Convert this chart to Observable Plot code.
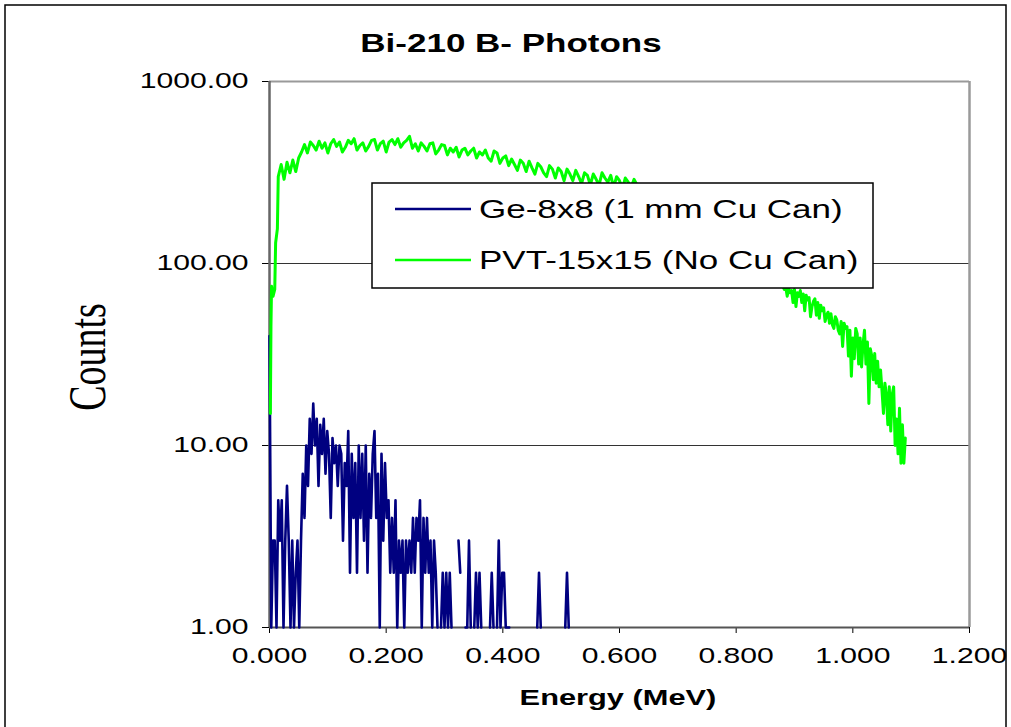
<!DOCTYPE html>
<html><head><meta charset="utf-8">
<script src="https://cdn.jsdelivr.net/npm/d3@7"></script>
<script src="https://cdn.jsdelivr.net/npm/@observablehq/plot@0.6"></script>
<style>body{margin:0;background:#fff;} svg{display:block}</style>
</head><body><div id="chart"></div>
<script>
const chartTitle = "Bi-210 B- Photons";
const xLabel = "Energy (MeV)";
const yLabel = "Counts";
const seriesNames = ["Ge-8x8 (1 mm Cu Can)", "PVT-15x15 (No Cu Can)"];
const seriesColors = ["#000080", "#00ff00"];
const xTicks = [0, 0.2, 0.4, 0.6, 0.8, 1.0, 1.2];
const yTicks = [1, 10, 100, 1000];
const yGrid = [10, 100];

// Ge-8x8 spectrum: channel energies start 0, width 0.003 MeV; null = empty channel
const geStart = 0, geStep = 0.003;
const geCounts = [
  40,1,3,3,1,5,3,5,1,3,
  6,3,1,3,1,2,3,1,3,7,
  4,10,6,14,9,17,10,14,6,13,
  9,14,7,12,9,4,11,8,10,6,
  10,9,3,8,6,12,2,9,4,8,
  2,10,4,9,3,10,2,7,4,9,
  12,4,7,1,9,3,8,4,5,2,
  4,2,5,1,3,2,3,1,3,2,
  3,2,4,2,4,3,5,1,4,2,
  4,2,3,1,3,2,1,null,1,2,
  1,2,1,2,1,null,null,null,3,2,
  null,null,1,1,3,1,null,1,2,1,
  2,1,null,null,null,null,1,2,1,null,
  1,3,1,2,2,1,1,1,null,null,
  null,null,null,null,null,null,null,null,null,null,
  null,null,null,1,2,1,null,null,null,null,
  null,null,null,null,null,null,null,null,null,1,
  2,1
];

// PVT-15x15 spectrum
const pvtHeadE = [0.0015, 0.0025, 0.0035, 0.006, 0.009, 0.0105, 0.0135];
const pvtHeadC = [15, 45, 75, 66, 72, 130, 155];
const pvtMainStart = 0.015, pvtMainStep = 0.005;
const pvtMainCounts = [
  300,350,290,360,315,370,320,380,410,450,
  405,465,445,420,470,430,460,405,455,480,
  440,465,410,435,475,455,485,420,445,460,
  415,440,475,480,420,455,470,410,465,480,
  450,485,435,460,475,500,430,455,415,460,
  440,415,455,460,400,420,450,445,395,430,
  410,435,385,420,430,395,415,430,380,410,
  395,420,380,365,415,405,355,380,390,345,
  375,350,325,370,355,320,365,335,310,355,
  340,315,300,345,330,295,335,320,285,330,
  310,285,325,300,275,315,305,270,310,290,
  270,315,295,280,305,262,300,285,258,295,
  280,262,290,270,250,260,250,255,245,250,
  235,240,230,232,220,222,210,212,200,200,
  190,188,178,176,166,165,155,152,145,140,
  134,130,124,120,115,110,106,102,98,95,
  92,90,88,86,84,84,82,82,80,80,
  78,78,76,75
];
const pvtTailStart = 0.8825, pvtTailStep = 0.0025;
const pvtTailCounts = [
  72,74,66,73,69,71,61,72,
  58,69,66,71,61,68,55,67,
  63,65,51,58,62,64,52,61,
  50,59,55,57,48,52,54,47,
  53,46,44,51,49,43,41,48,
  35,47,44,45,31,43,24,39,
  30,44,41,28,39,27,36,43,
  28,37,17,34,31,23,32,22,
  29,21,26,20,15,22,19,13,
  21,12,19,21,10,14,9,16,
  8,13,8,11
];

const ge = geCounts.map((c, i) => ({e: geStart + i * geStep, c}));
const pvt = [
  ...pvtHeadE.map((e, i) => ({e, c: pvtHeadC[i]})),
  ...pvtMainCounts.map((c, i) => ({e: pvtMainStart + i * pvtMainStep, c})),
  ...pvtTailCounts.map((c, i) => ({e: pvtTailStart + i * pvtTailStep, c}))
];

const FONT = "'Liberation Sans', Arial, sans-serif";
const SX = 1.4; // horizontal stretch of the original rendering

const chart = Plot.plot({
  width: 1011, height: 727,
  marginLeft: 269, marginRight: 42, marginTop: 81, marginBottom: 100,
  style: {fontFamily: FONT, fontSize: "21.5px", color: "#000", background: "#fff", overflow: "visible"},
  x: {domain: [0, 1.2], ticks: xTicks, tickFormat: d => d.toFixed(3), tickSize: 6, tickPadding: 14, label: null},
  y: {type: "log", domain: [1, 1000], ticks: yTicks, tickFormat: d => d.toFixed(2), tickSize: 7, tickPadding: 14, label: null},
  marks: [
    Plot.ruleY(yGrid, {stroke: "#333", strokeWidth: 1}),
    Plot.ruleY([1000], {stroke: "#9a9a9a", strokeWidth: 2}),
    Plot.ruleX([1.2], {stroke: "#9a9a9a", strokeWidth: 2.5}),
    Plot.ruleX([0], {stroke: "#666", strokeWidth: 2.5}),
    Plot.ruleY([1], {stroke: "#555", strokeWidth: 2}),
    Plot.line(ge, {x: "e", y: "c", stroke: seriesColors[0], strokeWidth: 2.6}),
    Plot.line(pvt, {x: "e", y: "c", stroke: seriesColors[1], strokeWidth: 3})
  ]
});
document.getElementById("chart").append(chart);

const svg = d3.select(chart);
const stretchable = [];

// outer frame
svg.append("rect").attr("x", 5).attr("y", 5).attr("width", 1001).attr("height", 800)
  .attr("fill", "none").attr("stroke", "#000").attr("stroke-width", 1.5);

// title
stretchable.push(svg.append("text").attr("x", 511).attr("y", 52).attr("text-anchor", "middle")
  .attr("font-family", FONT).attr("font-weight", "bold").attr("font-size", 25).attr("fill", "#000")
  .text(chartTitle).node());
// x label
stretchable.push(svg.append("text").attr("x", 618).attr("y", 705).attr("text-anchor", "middle")
  .attr("font-family", FONT).attr("font-weight", "bold").attr("font-size", 22).attr("fill", "#000")
  .text(xLabel).node());
// y label (serif, rotated, glyph height stretched)
svg.append("text").attr("transform", `translate(105,357) rotate(-90) scale(1,${SX})`)
  .attr("text-anchor", "middle").attr("font-family", "'Liberation Serif', 'Times New Roman', serif")
  .attr("font-size", 38).attr("fill", "#000").text(yLabel);

// legend
const lg = svg.append("g");
lg.append("rect").attr("x", 372).attr("y", 183).attr("width", 501).attr("height", 105)
  .attr("fill", "#fff").attr("stroke", "#000").attr("stroke-width", 1.5);
const rowsY = [209, 260];
seriesNames.forEach((name, i) => {
  lg.append("line").attr("x1", 395).attr("x2", 471).attr("y1", rowsY[i]).attr("y2", rowsY[i])
    .attr("stroke", seriesColors[i]).attr("stroke-width", 2.5);
  stretchable.push(lg.append("text").attr("x", 479).attr("y", rowsY[i] + 8.5)
    .attr("text-anchor", "start")
    .attr("font-family", FONT).attr("font-size", 25).attr("fill", "#000").text(name).node());
});

// tick labels
chart.querySelectorAll('g[aria-label="x-axis tick label"] text, g[aria-label="y-axis tick label"] text')
  .forEach(t => stretchable.push(t));

stretchable.forEach(t => {
  const L = t.getComputedTextLength();
  t.setAttribute("textLength", (L * SX).toFixed(1));
  t.setAttribute("lengthAdjust", "spacingAndGlyphs");
});
</script>
</body></html>
